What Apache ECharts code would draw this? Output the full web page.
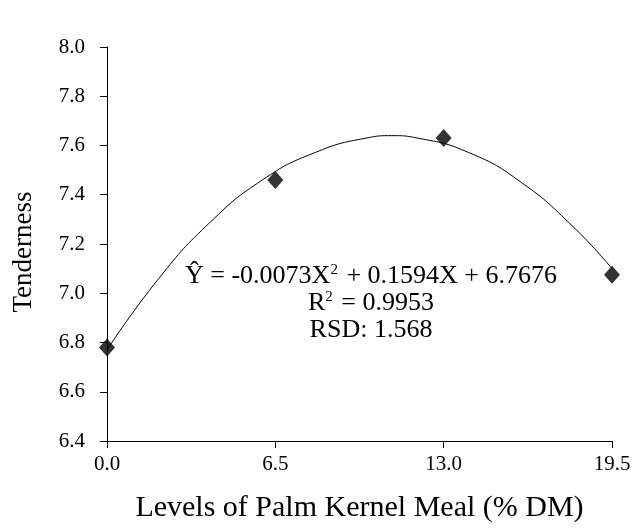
<!DOCTYPE html>
<html>
<head>
<meta charset="utf-8">
<script src="https://cdn.jsdelivr.net/npm/echarts@6/dist/echarts.min.js"></script>
<style>html,body{margin:0;padding:0;background:#fff}#c{width:640px;height:532px}</style>
</head>
<body>
<div id="c"></div>
<script>
var xTicks = [0, 6.5, 13, 19.5];
var levels = [0, 6.5, 13, 19.5];
var tenderness = [6.78, 7.46, 7.63, 7.075];
var trendX = [0, 2, 4, 6, 8, 10, 11, 12, 14, 16, 18, 19.5];
var trendY = [6.77, 7.06, 7.29, 7.46, 7.57, 7.63, 7.64, 7.63, 7.57, 7.45, 7.27, 7.10];
var eqLines = ['Ŷ = -0.0073X{s|2} + 0.1594X + 6.7676', 'R{s|2} = 0.9953', 'RSD: 1.568'];

var FONT = '"Liberation Serif", "Times New Roman", serif';
var chart = echarts.init(document.getElementById('c'), null, {renderer: 'canvas'});
var axisStyle = {color: '#000', width: 1};
var eqY = [276, 303, 330];
chart.setOption({
  animation: false,
  grid: {left: 107, right: 28, top: 47, bottom: 91, containLabel: false, outerBoundsMode: 'none'},
  xAxis: {
    type: 'value', min: 0, max: 19.5, interval: 6.5,
    name: 'Levels of Palm Kernel Meal (% DM)', nameLocation: 'middle', nameGap: 52,
    nameTextStyle: {fontFamily: FONT, fontSize: 30, color: '#000'},
    axisLine: {show: true, lineStyle: axisStyle},
    axisTick: {show: true, inside: false, length: 7, lineStyle: axisStyle},
    axisLabel: {fontFamily: FONT, fontSize: 21, color: '#000', margin: 13,
      formatter: function (v) { return v.toFixed(1); }},
    splitLine: {show: false}
  },
  yAxis: {
    type: 'value', min: 6.4, max: 8.0, interval: 0.2,
    name: 'Tenderness', nameLocation: 'middle', nameGap: 70,
    nameTextStyle: {fontFamily: FONT, fontSize: 27, color: '#000', padding: [0, 16, 0, 0]},
    axisLine: {show: true, lineStyle: axisStyle},
    axisTick: {show: true, inside: false, length: 7, lineStyle: axisStyle},
    axisLabel: {fontFamily: FONT, fontSize: 21, color: '#000', margin: 22,
      formatter: function (v) { return v.toFixed(1); }},
    splitLine: {show: false}
  },
  graphic: eqLines.map(function (t, i) {
    return {
      type: 'text', x: 371, y: eqY[i], z: 10,
      style: {
        text: t, align: 'center', verticalAlign: 'middle',
        fontFamily: FONT, fontSize: 26, fill: '#000',
        rich: {s: {fontFamily: FONT, fontSize: 15, verticalAlign: 'top', padding: [0, 2, 10, 0], fill: '#000'}}
      }
    };
  }),
  series: [{
    type: 'line', data: trendX.map(function (x, i) { return [x, trendY[i]]; }),
    smooth: true, symbol: 'none', lineStyle: {color: '#000', width: 1}, z: 1
  }, {
    type: 'scatter', data: levels.map(function (x, i) { return [x, tenderness[i]]; }),
    symbol: 'diamond', symbolSize: [16, 18], itemStyle: {color: '#000'}, z: 3
  }]
});
</script>
</body>
</html>
